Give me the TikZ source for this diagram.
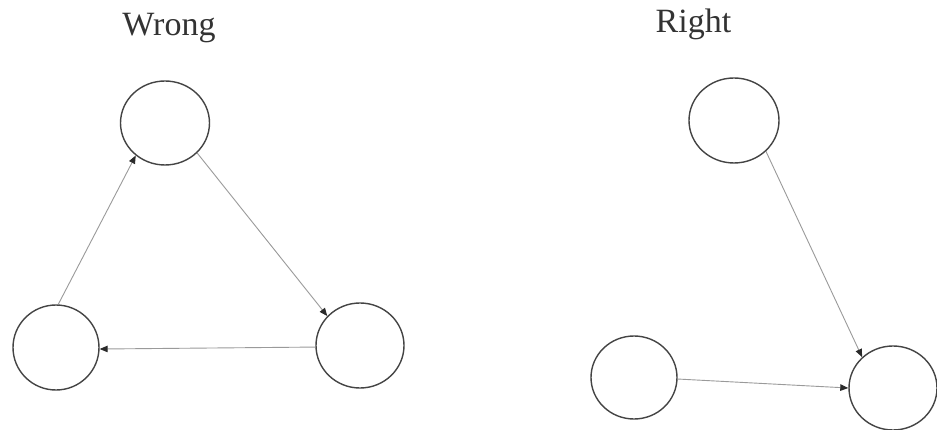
\documentclass[tikz,border=0pt]{standalone}
\usepackage{fontspec}
\setmainfont{Liberation Serif}
\usetikzlibrary{shapes.geometric,arrows.meta}
\definecolor{ringcol}{HTML}{444444}
\definecolor{linecol}{HTML}{9A9A9A}
\definecolor{tipcol}{HTML}{2A2A2A}
\begin{document}
\begin{tikzpicture}[x=1pt,y=-1pt,
  vnode/.style={ellipse,draw=ringcol,line width=1.4pt,fill=white,inner sep=0pt},
  conn/.style={draw=linecol,line width=0.9pt,-{Triangle[length=8pt,width=6.5pt,color=tipcol]}},
  heading/.style={anchor=base,text=black!80,font=\fontsize{34}{40}\selectfont}]
\fill[white] (0,0) rectangle (937,430);
\useasboundingbox (0,0) rectangle (937,430);
% headings
\node[heading] (tw) at (169,36) {Wrong};
\node[heading] (tr) at (693.5,33) {Right};
% left graph
\node[vnode,minimum width=89pt,minimum height=84pt] (lt) at (165,123) {};
\node[vnode,minimum width=86pt,minimum height=85pt] (lbl) at (56,347.5) {};
\node[vnode,minimum width=88pt,minimum height=85pt] (lbr) at (360,345.5) {};
\draw[conn] (lbl.87) -- (lt.228);
\draw[conn] (lt.-43) -- (lbr.138);
\draw[conn] (lbr.182) -- (lbl.-2);
% right graph
\node[vnode,minimum width=90pt,minimum height=85pt] (rt) at (734,120.5) {};
\node[vnode,minimum width=86pt,minimum height=83pt] (rbl) at (634,377.5) {};
\node[vnode,minimum width=88pt,minimum height=84pt] (rbr) at (893,388) {};
\draw[conn] (rt.-44) -- (rbr.135);
\draw[conn] (rbl.-2) -- (rbr.180);
\end{tikzpicture}
\end{document}
